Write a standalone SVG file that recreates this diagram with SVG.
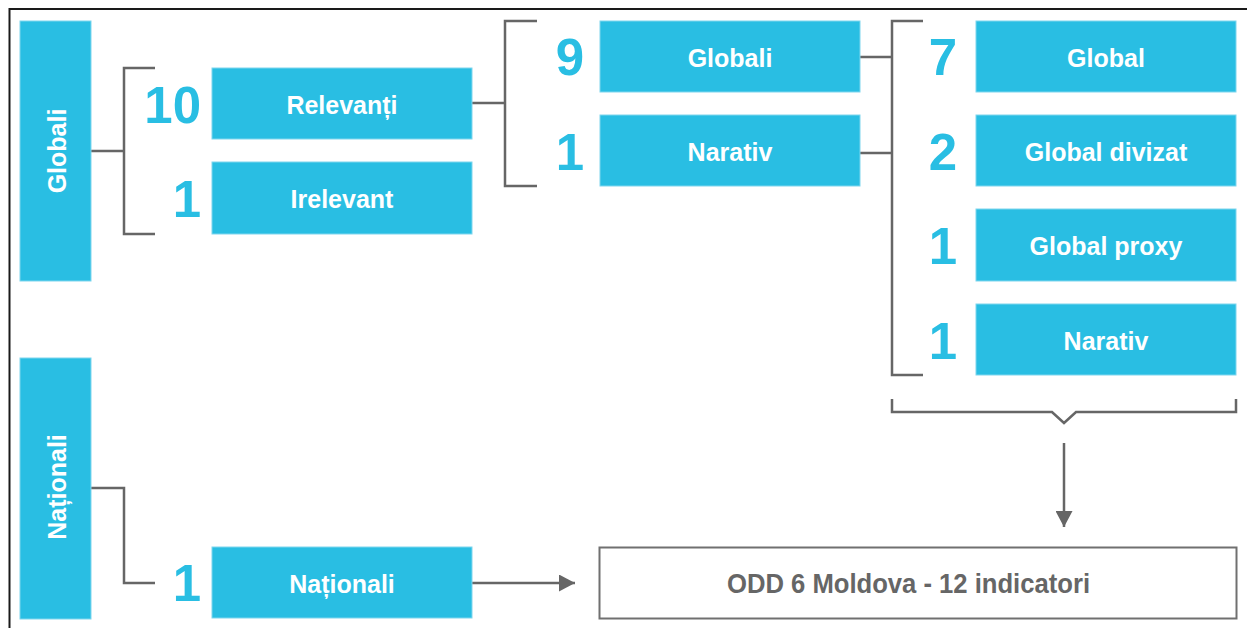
<svg xmlns="http://www.w3.org/2000/svg" width="1247" height="628" viewBox="0 0 1247 628">
<defs>
<style>
.box{fill:#29BEE3;stroke:#7FD6EE;stroke-width:1}
.lbl{font-family:"Liberation Sans",Arial,sans-serif;font-weight:bold;font-size:25px;fill:#FFFFFF;text-anchor:middle}
.num{font-family:"Liberation Sans",Arial,sans-serif;font-weight:bold;font-size:51px;fill:#29BEE3;text-anchor:end}
.ln{fill:none;stroke:#666666;stroke-width:2.5}
</style>
<marker id="ah" viewBox="0 0 16 17" refX="16" refY="8.5" markerWidth="16" markerHeight="17" markerUnits="userSpaceOnUse" orient="auto">
<path d="M0,0 L16,8.5 L0,17 Z" fill="#666666"/>
</marker>
</defs>
<rect x="0" y="0" width="1247" height="628" fill="#FFFFFF"/>
<path d="M9.5,628 V9 H1247" fill="none" stroke="#1a1a1a" stroke-width="2"/>

<g id="connectors">
<path class="ln" d="M91,151 H124 M155,68 H124 V234 H155"/>
<path class="ln" d="M472,103 H505 M537,21 H505 V186 H537"/>
<path class="ln" d="M860,57 H892 M860,153 H892 M923,21 H892 V375 H923"/>
<path class="ln" d="M892,399 V412 H1052 L1064,423 L1076,412 H1236 V399"/>
<path class="ln" d="M1064,443 V527" marker-end="url(#ah)"/>
<path class="ln" d="M91,488 H124 V583 H155"/>
<path class="ln" d="M472,583 H575" marker-end="url(#ah)"/>
</g>

<g id="globali-bar">
<rect class="box" x="20" y="21" width="71" height="260"/>
<text class="lbl" transform="translate(66,151) rotate(-90)">Globali</text>
</g>
<g id="nationali-bar">
<rect class="box" x="20" y="358" width="71" height="261"/>
<text class="lbl" transform="translate(66,487) rotate(-90)">Naționali</text>
</g>

<g id="relevanti">
<text class="num" x="201" y="123">10</text>
<rect class="box" x="212" y="68" width="260" height="71"/>
<text class="lbl" x="342" y="114">Relevanți</text>
</g>
<g id="irelevant">
<text class="num" x="201" y="217">1</text>
<rect class="box" x="212" y="162" width="260" height="72"/>
<text class="lbl" x="342" y="208">Irelevant</text>
</g>

<g id="globali-mid">
<text class="num" x="584" y="75">9</text>
<rect class="box" x="600" y="21" width="260" height="71"/>
<text class="lbl" x="730" y="67">Globali</text>
</g>
<g id="narativ-mid">
<text class="num" x="584" y="170">1</text>
<rect class="box" x="600" y="115" width="260" height="71"/>
<text class="lbl" x="730" y="161">Narativ</text>
</g>

<g id="global">
<text class="num" x="957" y="75">7</text>
<rect class="box" x="976" y="21" width="260" height="71"/>
<text class="lbl" x="1106" y="67">Global</text>
</g>
<g id="global-divizat">
<text class="num" x="957" y="170">2</text>
<rect class="box" x="976" y="115" width="260" height="71"/>
<text class="lbl" x="1106" y="161">Global divizat</text>
</g>
<g id="global-proxy">
<text class="num" x="957" y="264">1</text>
<rect class="box" x="976" y="209" width="260" height="72"/>
<text class="lbl" x="1106" y="255">Global proxy</text>
</g>
<g id="narativ-right">
<text class="num" x="957" y="359">1</text>
<rect class="box" x="976" y="304" width="260" height="71"/>
<text class="lbl" x="1106" y="350">Narativ</text>
</g>

<g id="nationali">
<text class="num" x="201" y="601">1</text>
<rect class="box" x="212" y="547" width="260" height="71"/>
<text class="lbl" x="342" y="593">Naționali</text>
</g>

<g id="odd">
<rect x="599.5" y="547.5" width="637" height="71" fill="#FFFFFF" stroke="#707070" stroke-width="2"/>
<text x="908.5" y="593" font-family="'Liberation Sans',Arial,sans-serif" font-weight="bold" font-size="27" fill="#666666" text-anchor="middle" textLength="363" lengthAdjust="spacingAndGlyphs">ODD 6 Moldova - 12 indicatori</text>
</g>
</svg>
